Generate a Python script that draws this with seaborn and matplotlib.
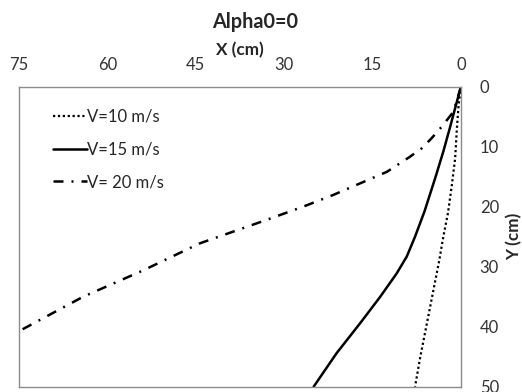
import matplotlib
matplotlib.use("Agg")
import matplotlib.pyplot as plt
import seaborn as sns
import pandas as pd

sns.set_theme(style="white")
plt.rcParams['font.family'] = ['Lato', 'DejaVu Sans']

title = "Alpha0=0"
x_label = "X (cm)"
y_label = "Y (cm)"
x_ticks = [0, 15, 30, 45, 60, 75]
y_ticks = [0, 10, 20, 30, 40, 50]

labels = ["V=10 m/s", "V=15 m/s", "V= 20 m/s"]

v10_y = [0, 3, 7, 12, 16, 21, 25, 29, 33, 37, 41, 45, 50]
v10_x = [0, 0.4, 0.7, 1.0, 1.5, 2.2, 3.0, 3.7, 4.5, 5.3, 6.1, 6.9, 7.8]

v15_y = [0, 2.5, 6.9, 10.8, 15.3, 20.8, 25, 28.3, 31.1, 35, 39.4, 44.4, 50]
v15_x = [0, 0.7, 1.9, 3.0, 4.4, 6.2, 7.8, 9.2, 10.9, 13.7, 17.1, 21.1, 25.0]

v20_y = [0, 4.2, 6.7, 8.6, 10.3, 11.7, 14.2, 16.1, 18.05, 20, 22.2, 26.1, 30.6, 35, 40.8]
v20_x = [0, 1.3, 3.3, 5.0, 6.7, 8.7, 12.6, 17.1, 21.7, 26.8, 33.0, 44.3, 53.9, 64.1, 75.1]

series = [
    (labels[0], v10_x, v10_y, dict(lw=1.6, linestyle=(0, (1.0, 1.2)))),
    (labels[1], v15_x, v15_y, dict(lw=1.8, linestyle="-")),
    (labels[2], v20_x, v20_y, dict(lw=1.8, linestyle=(0, (4, 3.2, 0.8, 3.2)))),
]

fig = plt.figure(figsize=(5.22, 3.92), dpi=100)
ax = fig.add_axes([19/522, 1-386.7/392, (461-19)/522, (386.7-86.7)/392])

for name, xs, ys, style in series:
    df = pd.DataFrame({"x": xs, "y": ys})
    sns.lineplot(data=df, x="x", y="y", sort=False, estimator=None, ax=ax,
                 color="black", label=name, **style)

ax.set_xlim(75, 0)
ax.set_ylim(50, 0)
ax.set_xticks(x_ticks)
ax.set_yticks(y_ticks)
ax.xaxis.tick_top()
ax.yaxis.tick_right()
ax.tick_params(axis="x", length=0, pad=10, labelsize=12, colors="#333333")
ax.tick_params(axis="y", length=0, pad=13.5, labelsize=12, colors="#333333")
ax.xaxis.set_label_position("top")
ax.yaxis.set_label_position("right")
ax.set_xlabel(x_label, fontsize=12.3, fontweight="bold", labelpad=1)
ax.set_ylabel(y_label, fontsize=12.3, fontweight="bold", labelpad=5)
for s in ax.spines.values():
    s.set_color("#8c8c8c")
    s.set_linewidth(1.0)
ax.grid(False)

fig.text(255/522, 1-22/392, title, ha="center", va="center", fontsize=14.3, fontweight="bold")

leg = ax.legend(loc="upper left", bbox_to_anchor=(53/522, 1-109/392), bbox_transform=fig.transFigure,
                frameon=False, handlelength=2.05, handletextpad=0.0, labelspacing=0.99,
                fontsize=12, borderaxespad=0, borderpad=0)

fig.savefig("out.png", dpi=100)
